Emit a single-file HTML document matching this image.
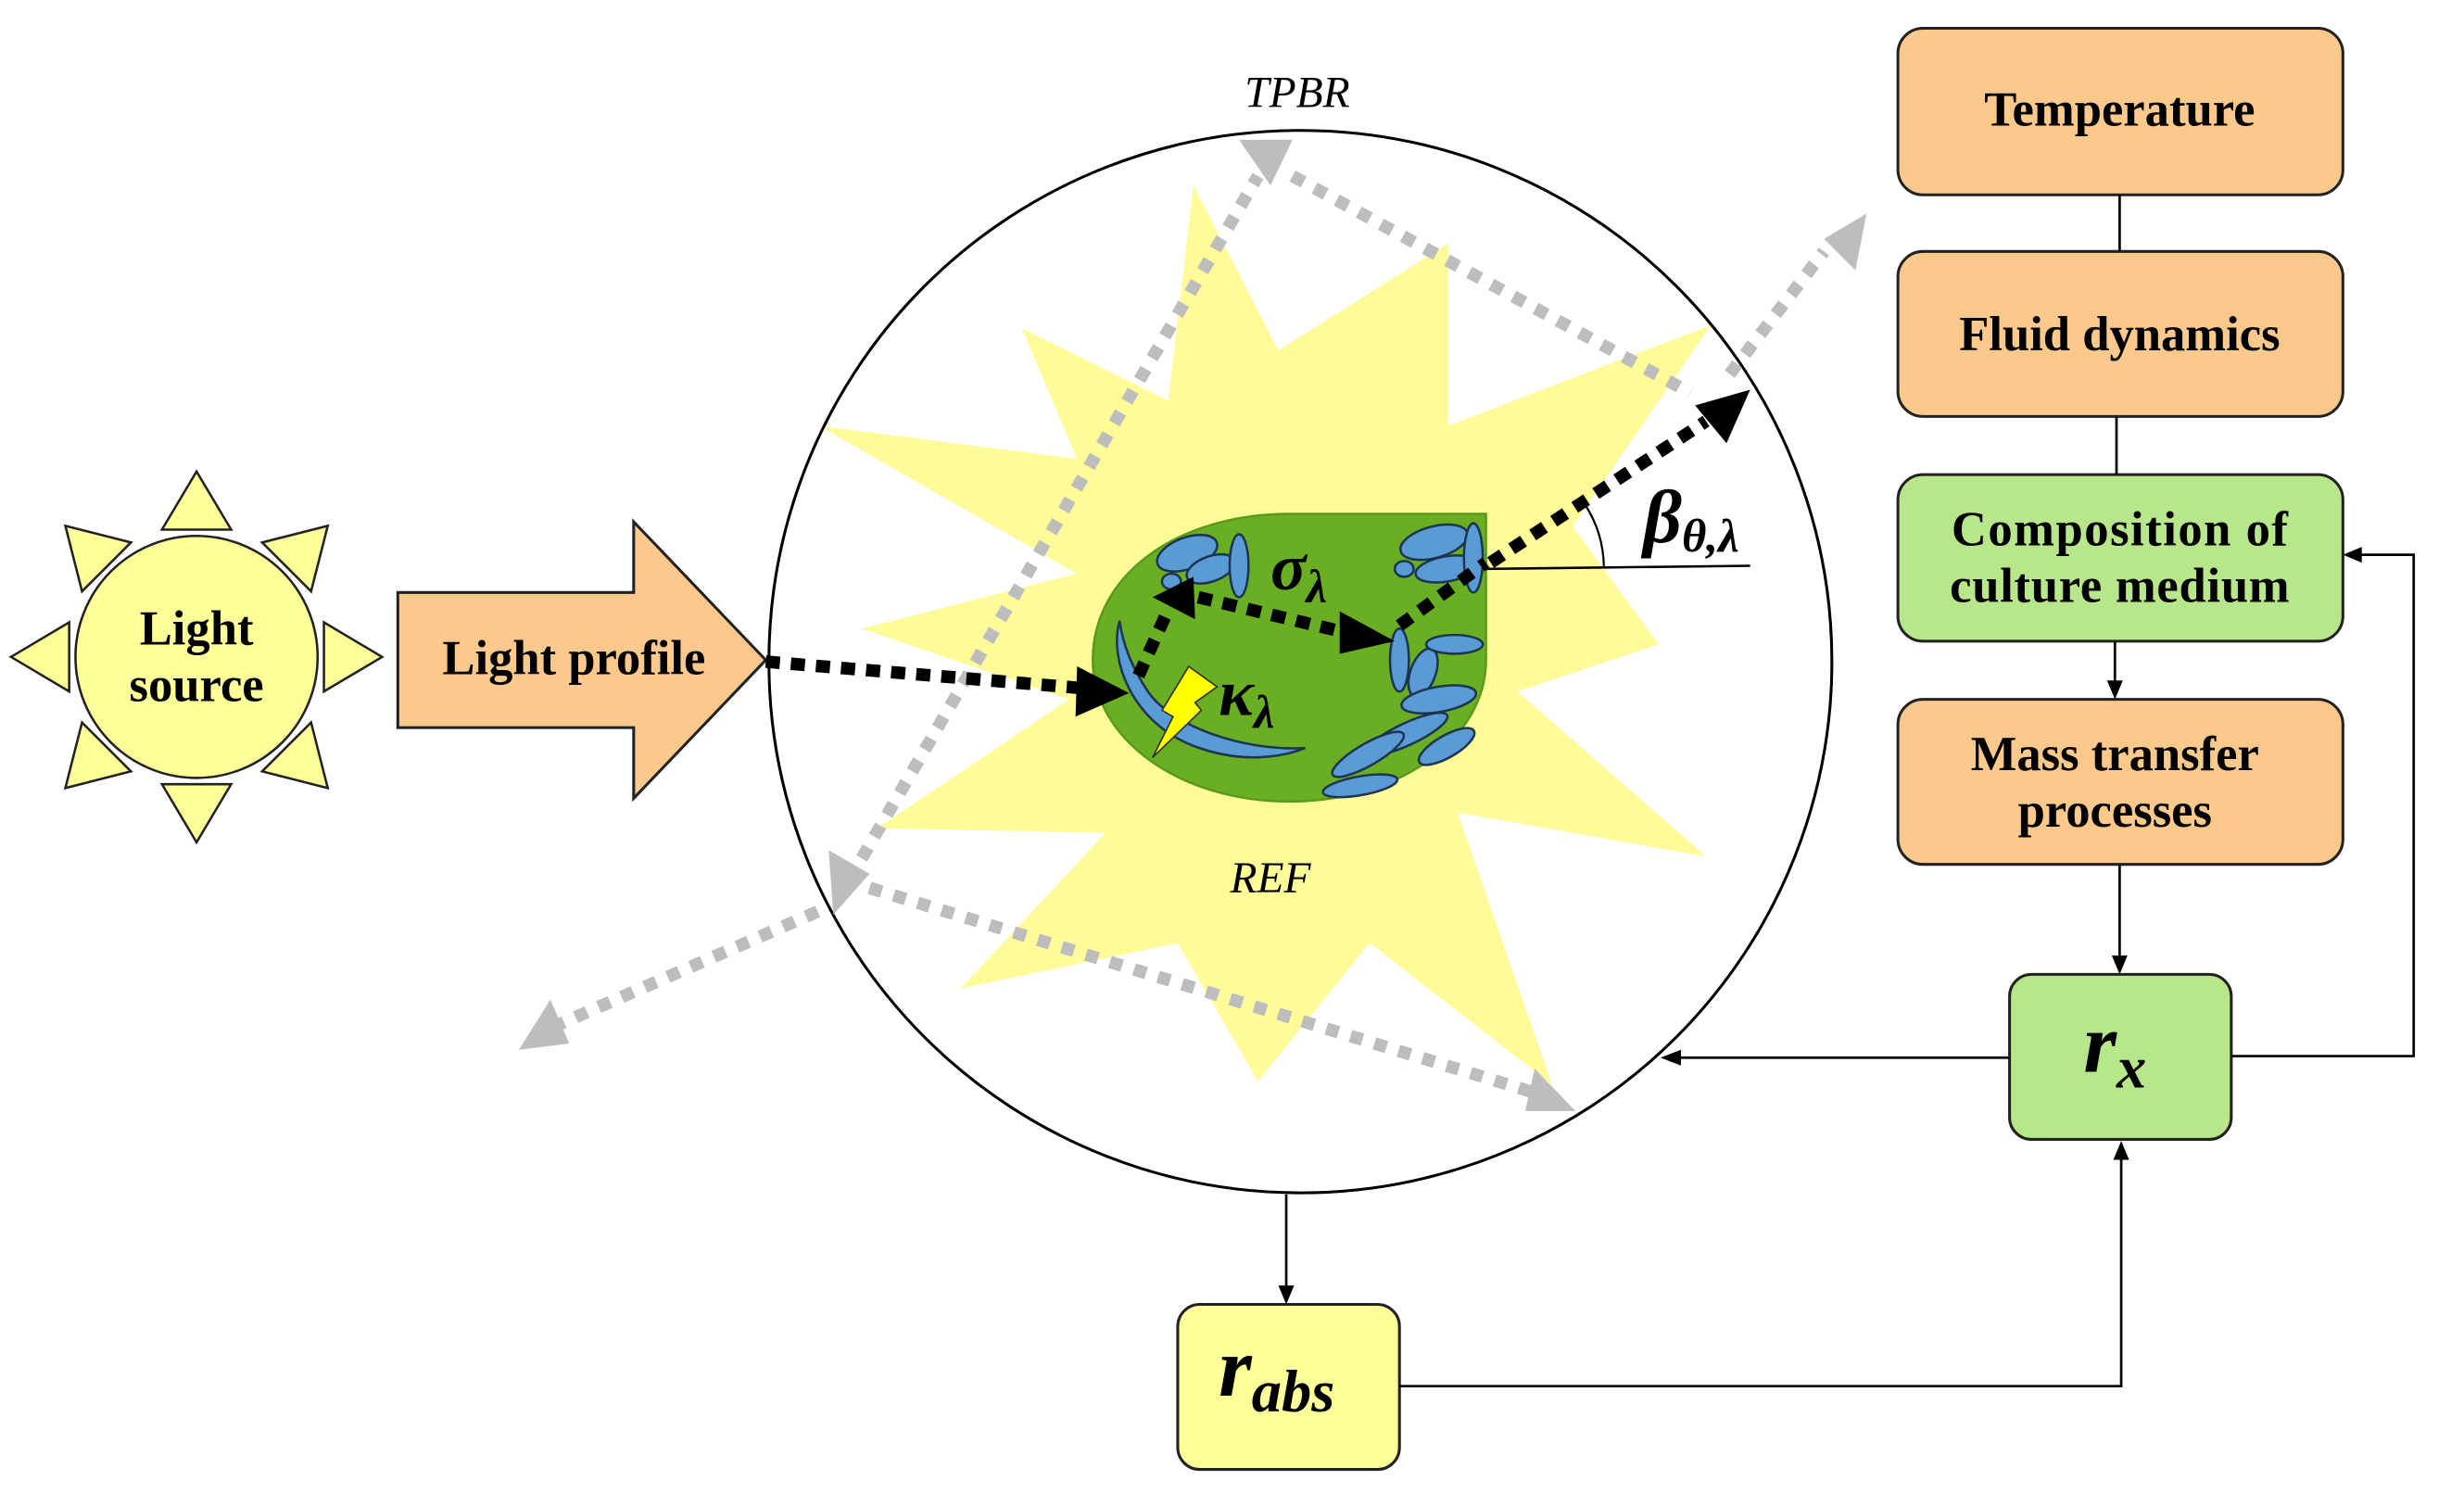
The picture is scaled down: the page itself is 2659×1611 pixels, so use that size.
<!DOCTYPE html>
<html><head><meta charset="utf-8"><style>
html,body{margin:0;padding:0;background:#fff}
svg{display:block}
text{font-family:"Liberation Serif",serif}
.b{font-weight:bold;font-size:31px;text-anchor:middle}
</style></head><body>
<svg width="2659" height="1611" viewBox="0 0 1567 950" preserveAspectRatio="none" xmlns="http://www.w3.org/2000/svg">
<rect width="1567" height="950" fill="#fff"/>
<polygon fill="#fffb99" points="759,118 813,223 921,155 921,271 1088,207 1000,335 1055,410 965,440 1085,545 927,517 987,690 871,600 800,688 749,600 611,629 703,530 558,527 680,445 548,400 685,365 521,271 685,292 650,209 743,255"/>
<circle cx="827" cy="421" r="338" fill="none" stroke="#000" stroke-width="1.8"/>
<text x="825" y="68" font-size="28" font-style="italic" text-anchor="middle">TPBR</text>
<text x="808" y="568" font-size="28" font-style="italic" text-anchor="middle">REF</text>
<g stroke="#bdbdbd" stroke-width="8" stroke-dasharray="8 8" fill="none">
<line x1="540" y1="560" x2="800" y2="112"/>
<line x1="822" y1="112" x2="1075" y2="250"/>
<line x1="1100" y1="238" x2="1160" y2="160"/>
<line x1="520" y1="580" x2="355" y2="652"/>
<line x1="553" y1="565" x2="975" y2="695"/>
</g>
<g fill="#bdbdbd">
<polygon points="788,89 822,89 808,118"/>
<polygon points="1160,152 1187,136 1180,172"/>
<polygon points="527,541 553,556 530,582"/>
<polygon points="330,668 362,664 350,636"/>
<polygon points="970,707 1002,707 976,680"/>
</g>
<path d="M820,327 L945,327 L945,420 C945,470 890,510 820,510 C750,510 695,470 695,420 C695,365 750,327 820,327 Z" fill="#6aaf23" stroke="#5a9a1a" stroke-width="1.5"/>
<g fill="#5b9bd5" stroke="#1d3550" stroke-width="1.5">
<path d="M712,395 C705,420 720,460 760,475 C790,486 815,482 830,476 C790,478 745,462 730,440 C720,425 714,410 712,395 Z"/>
<ellipse cx="755" cy="352" rx="20" ry="10" transform="rotate(-20 755 352)"/>
<ellipse cx="770" cy="362" rx="16" ry="8" transform="rotate(-20 770 362)"/>
<ellipse cx="788" cy="360" rx="6" ry="20"/>
<ellipse cx="745" cy="370" rx="6" ry="5"/>
<ellipse cx="912" cy="345" rx="22" ry="10" transform="rotate(-15 912 345)"/>
<ellipse cx="920" cy="362" rx="20" ry="8" transform="rotate(-10 920 362)"/>
<ellipse cx="937" cy="355" rx="6" ry="22"/>
<ellipse cx="893" cy="362" rx="6" ry="5"/>
<ellipse cx="890" cy="420" rx="6" ry="20"/>
<ellipse cx="905" cy="428" rx="8" ry="16" transform="rotate(20 905 428)"/>
<ellipse cx="925" cy="410" rx="18" ry="6"/>
<ellipse cx="915" cy="445" rx="24" ry="8" transform="rotate(-10 915 445)"/>
<ellipse cx="895" cy="467" rx="28" ry="7" transform="rotate(-25 895 467)"/>
<ellipse cx="870" cy="480" rx="26" ry="7" transform="rotate(-30 870 480)"/>
<ellipse cx="865" cy="500" rx="24" ry="6" transform="rotate(-10 865 500)"/>
<ellipse cx="920" cy="475" rx="20" ry="7" transform="rotate(-30 920 475)"/>
</g>
<polygon points="756,424 774,437 760,447 764,452 733,482 746,456 739,452" fill="#ffff00" stroke="#333" stroke-width="1"/>
<g fill="#ffff99" stroke="#222" stroke-width="1.5">
<circle cx="125" cy="418" r="77"/>
<g id="t"><polygon points="125,300 103,337 147,337"/></g>
<use href="#t" transform="rotate(45 125 418)"/>
<use href="#t" transform="rotate(90 125 418)"/>
<use href="#t" transform="rotate(135 125 418)"/>
<use href="#t" transform="rotate(180 125 418)"/>
<use href="#t" transform="rotate(225 125 418)"/>
<use href="#t" transform="rotate(270 125 418)"/>
<use href="#t" transform="rotate(315 125 418)"/>
</g>
<text class="b" x="125" y="410">Light</text>
<text class="b" x="125" y="446">source</text>
<polygon points="253,377 403,377 403,332 487,420 403,508 403,463 253,463" fill="#fbc98c" stroke="#222" stroke-width="1.8"/>
<text class="b" x="365" y="429">Light profile</text>
<g stroke="#000" stroke-width="8" stroke-dasharray="9 7" fill="none">
<line x1="487" y1="421" x2="690" y2="438"/>
<line x1="724" y1="430" x2="742" y2="390"/>
<line x1="762" y1="380" x2="858" y2="403"/>
<line x1="890" y1="398" x2="945" y2="358"/>
<line x1="948" y1="358" x2="1085" y2="268"/>
</g>
<g fill="#000">
<polygon points="718,441 685,424 684,456"/>
<polygon points="733,380 759,367 760,394"/>
<polygon points="887,408 852,389 852,416"/>
<polygon points="1113,248 1078,258 1098,282"/>
</g>
<line x1="945" y1="362" x2="1113" y2="360" stroke="#000" stroke-width="1.5"/>
<path d="M1020,361 A75,75 0 0 0 1008,321" fill="none" stroke="#000" stroke-width="1.3"/>
<text x="1045" y="345" font-size="48" font-weight="bold" font-style="italic">β<tspan font-size="30" dy="6">θ,λ</tspan></text>
<text x="808" y="375" font-size="42" font-weight="bold" font-style="italic">σ<tspan font-size="30" dy="8">λ</tspan></text>
<text x="775" y="455" font-size="42" font-weight="bold" font-style="italic">κ<tspan font-size="30" dy="8">λ</tspan></text>
<g stroke="#222" stroke-width="1.8">
<rect x="1207" y="18" width="283" height="106" rx="16" fill="#fbc98c"/>
<rect x="1207" y="160" width="283" height="105" rx="16" fill="#fbc98c"/>
<rect x="1207" y="302" width="283" height="106" rx="16" fill="#b8e68b"/>
<rect x="1207" y="445" width="283" height="105" rx="16" fill="#fbc98c"/>
<rect x="1278" y="620" width="141" height="105" rx="14" fill="#b8e68b"/>
<rect x="749" y="830" width="141" height="105" rx="14" fill="#ffff99"/>
</g>
<text class="b" x="1348" y="80">Temperature</text>
<text class="b" x="1348" y="223">Fluid dynamics</text>
<text class="b" x="1348" y="347" textLength="214">Composition of</text>
<text class="b" x="1348" y="383" textLength="216">culture medium</text>
<text class="b" x="1345" y="490">Mass transfer</text>
<text class="b" x="1345" y="526">processes</text>
<text x="1325" y="682" font-size="54" font-weight="bold" font-style="italic">r<tspan font-size="38" dy="10">x</tspan></text>
<text x="775" y="888" font-size="54" font-weight="bold" font-style="italic">r<tspan font-size="38" dy="10">abs</tspan></text>
<g stroke="#000" stroke-width="1.6" fill="none">
<line x1="1348" y1="124" x2="1348" y2="160"/>
<line x1="1346" y1="265" x2="1346" y2="302"/>
<line x1="1345" y1="408" x2="1345" y2="435"/>
<line x1="1348" y1="550" x2="1348" y2="610"/>
<line x1="1278" y1="673" x2="1068" y2="673"/>
<polyline points="1419,672 1535,672 1535,353 1500,353"/>
<line x1="818" y1="760" x2="818" y2="820"/>
<polyline points="890,882 1349,882 1349,737"/>
</g>
<g fill="#000">
<polygon points="1345,445 1340,433 1350,433"/>
<polygon points="1348,620 1343,608 1353,608"/>
<polygon points="1056,673 1069,668 1069,678"/>
<polygon points="1490,353 1502,348 1502,358"/>
<polygon points="818,830 813,818 823,818"/>
<polygon points="1349,726 1344,738 1354,738"/>
</g>
</svg>
</body></html>
